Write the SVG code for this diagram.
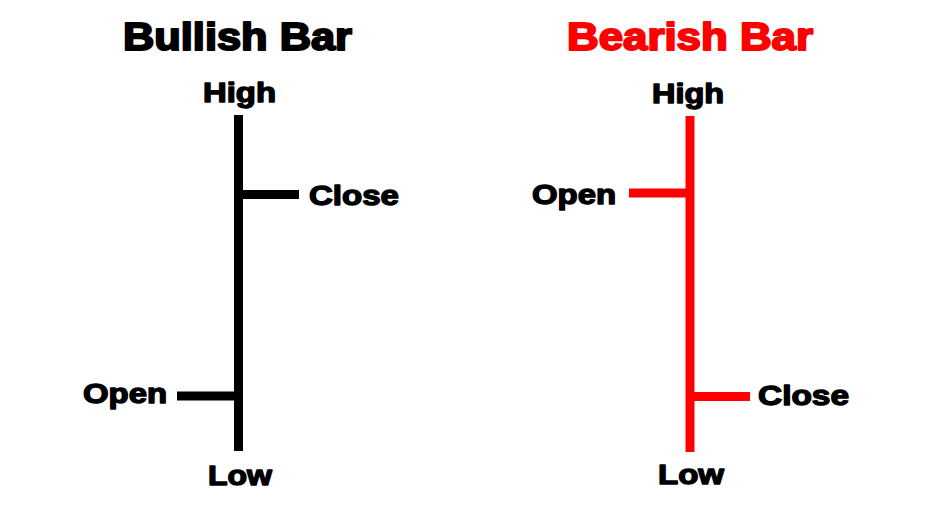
<svg xmlns="http://www.w3.org/2000/svg" width="947" height="519" viewBox="0 0 947 519">
<style>
  text { font-family: "Liberation Sans", Arial, sans-serif; font-weight: bold; stroke-linejoin: round; }
  .title { font-size: 38px; stroke-width: 2; }
  .lbl { font-size: 28px; fill: #000; stroke: #000; stroke-width: 1.4; }
  .blk { fill: #000; stroke: #000; }
  .red { fill: #ff0000; stroke: #ff0000; }
  .bar { fill: none; stroke-width: 9; stroke-linecap: butt; }
  .bar.b { stroke: #000; }
  .bar.r { stroke: #ff0000; }
</style>
<rect width="947" height="519" fill="#fff"/>
<g id="bullish">
  <text class="title blk" x="123" y="50" textLength="229" lengthAdjust="spacingAndGlyphs">Bullish Bar</text>
  <g id="bull-high"><text class="lbl" x="203" y="102" textLength="73" lengthAdjust="spacingAndGlyphs">High</text></g>
  <g id="bull-close"><text class="lbl" x="309" y="205" textLength="90" lengthAdjust="spacingAndGlyphs">Close</text></g>
  <g id="bull-open"><text class="lbl" x="83" y="403" textLength="84" lengthAdjust="spacingAndGlyphs">Open</text></g>
  <g id="bull-low"><text class="lbl" x="208" y="485" textLength="64" lengthAdjust="spacingAndGlyphs">Low</text></g>
</g>
<g id="bearish">
  <text class="title red" x="567" y="50" textLength="246" lengthAdjust="spacingAndGlyphs">Bearish Bar</text>
  <g id="bear-high"><text class="lbl" x="652" y="103" textLength="72" lengthAdjust="spacingAndGlyphs">High</text></g>
  <g id="bear-open"><text class="lbl" x="532" y="204" textLength="84" lengthAdjust="spacingAndGlyphs">Open</text></g>
  <g id="bear-close"><text class="lbl" x="758" y="405" textLength="91" lengthAdjust="spacingAndGlyphs">Close</text></g>
  <g id="bear-low"><text class="lbl" x="658" y="484" textLength="66" lengthAdjust="spacingAndGlyphs">Low</text></g>
</g>
<g id="connectors">
  <line class="bar b" x1="238.5" y1="115" x2="238.5" y2="451"/>
  <line class="bar b" x1="243" y1="194.5" x2="299" y2="194.5"/>
  <line class="bar b" x1="177" y1="396" x2="234" y2="396"/>
  <line class="bar r" x1="690" y1="116" x2="690" y2="452"/>
  <line class="bar r" x1="629" y1="193" x2="686" y2="193"/>
  <line class="bar r" x1="694" y1="396.5" x2="750" y2="396.5"/>
</g>
</svg>
